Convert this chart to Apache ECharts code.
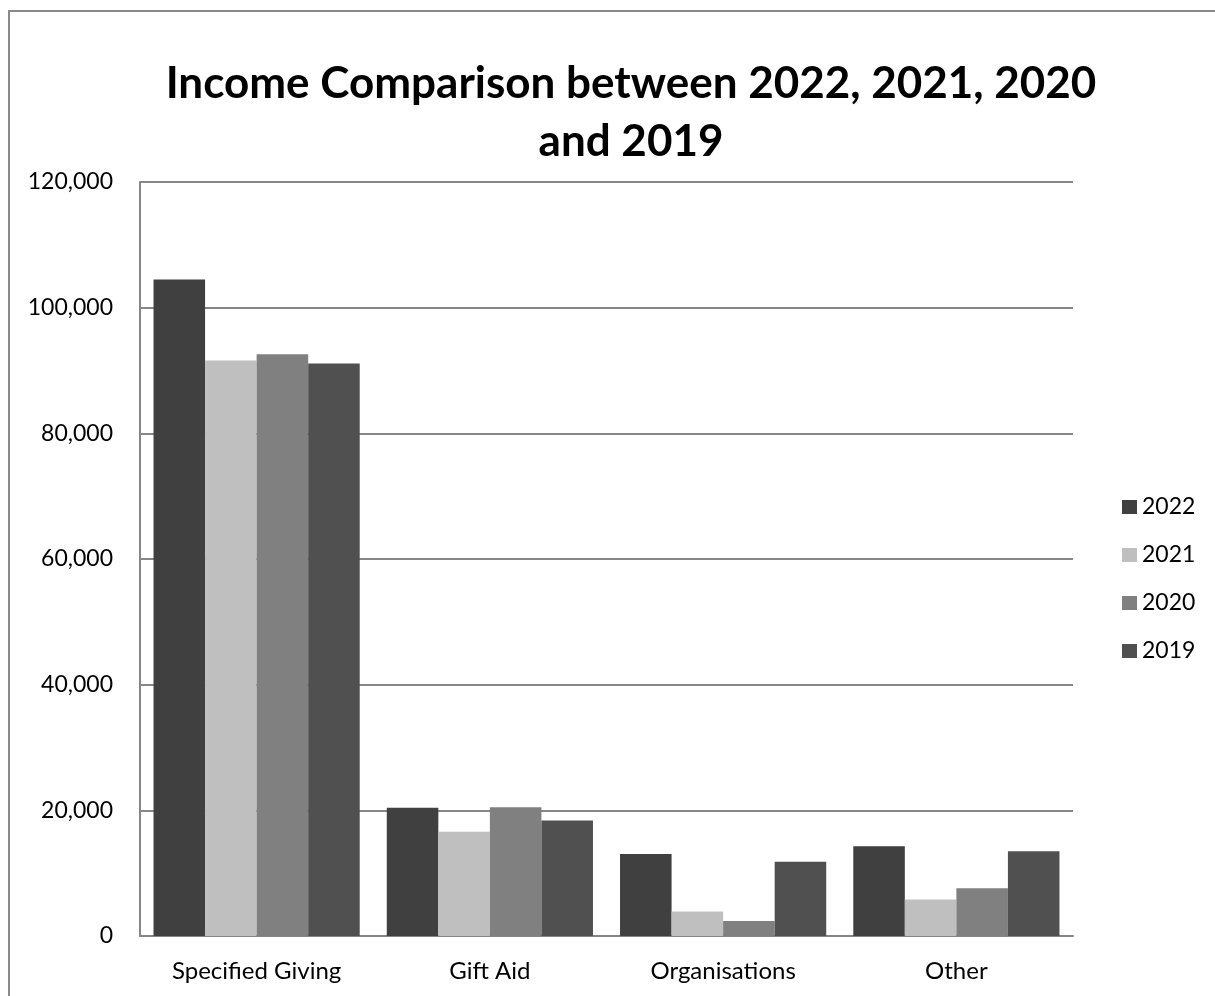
<!DOCTYPE html>
<html><head><meta charset="utf-8">
<script src="https://cdn.jsdelivr.net/npm/echarts@6/dist/echarts.min.js"></script>
<style>html,body{margin:0;padding:0;background:#fff}#c{width:1215px;height:996px}</style>
</head><body><div id="c"></div>
<script>
const categories = ['Specified Giving', 'Gift Aid', 'Organisations', 'Other'];
const seriesNames = ['2022', '2021', '2020', '2019'];
const v2022 = [104500, 20400, 13050, 14300];
const v2021 = [91600, 16600, 3900, 5800];
const v2020 = [92600, 20500, 2400, 7600];
const v2019 = [91100, 18400, 11800, 13500];
const yTicks = [0, 20000, 40000, 60000, 80000, 100000, 120000];
const colors = ['#404040', '#bfbfbf', '#808080', '#505050'];
const values = [v2022, v2021, v2020, v2019];

const chart = echarts.init(document.getElementById('c'));
const font = 'Lato, "Open Sans", sans-serif';
chart.setOption({
  animation: false,
  textStyle: { fontFamily: font },
  graphic: [{
    type: 'rect', shape: { x: 9, y: 11, width: 1300, height: 1100 },
    style: { fill: 'none', stroke: '#8a8a8a', lineWidth: 2 }, silent: true
  }],
  title: {
    text: 'Income Comparison between 2022, 2021, 2020\nand 2019',
    left: 626, top: 50, textAlign: 'center',
    textStyle: { fontFamily: font, fontWeight: 'bold', fontSize: 44, color: '#000', lineHeight: 58 }
  },
  legend: {
    orient: 'vertical', left: 1117, top: 490, itemGap: 24,
    itemWidth: 15, itemHeight: 14, icon: 'rect',
    data: seriesNames,
    textStyle: { fontFamily: font, fontSize: 23, lineHeight: 24, color: '#000' }
  },
  grid: { left: 140, right: 142, top: 182, bottom: 60, containLabel: false },
  xAxis: {
    type: 'category', data: categories,
    axisLine: { lineStyle: { color: '#868686', width: 2 } },
    axisTick: { show: false },
    axisLabel: { color: '#000', fontSize: 24, fontFamily: font, margin: 23 }
  },
  yAxis: {
    type: 'value', min: yTicks[0], max: yTicks[yTicks.length - 1], interval: 20000,
    axisLine: { show: true, lineStyle: { color: '#868686', width: 2 } },
    axisTick: { show: false },
    splitLine: { lineStyle: { color: '#868686', width: 2 } },
    axisLabel: {
      color: '#000', fontSize: 23, fontFamily: font, margin: 27,
      formatter: v => v.toLocaleString('en-US')
    }
  },
  series: seriesNames.map((n, i) => ({
    name: n, type: 'bar', data: values[i],
    barGap: '0%', barCategoryGap: '11.6%',
    itemStyle: { color: colors[i] }
  }))
});
</script></body></html>
